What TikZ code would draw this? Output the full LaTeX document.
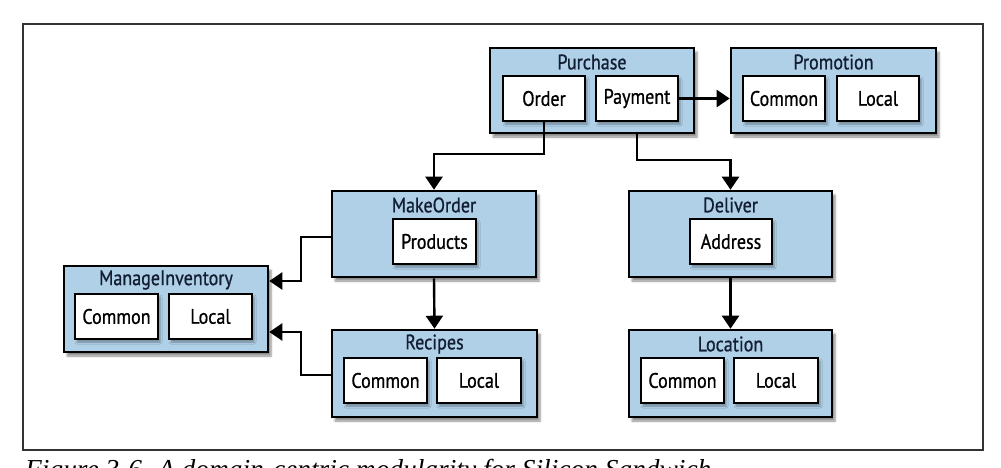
\documentclass[tikz,border=0pt]{standalone}
\usepackage{fontspec}
\setmainfont{PT Sans}
\newfontfamily\lblfont{PT Sans}[FakeStretch=0.86,FakeBold=0.8]
\newfontfamily\capfont{Liberation Serif}
\usetikzlibrary{arrows.meta,positioning,shadows.blur}

\definecolor{boxblue}{RGB}{176,208,232}
\definecolor{titlenavy}{RGB}{18,30,50}

\begin{document}
\begin{tikzpicture}[x=1pt,y=-1pt,
  outer/.style={draw,line width=2.6pt,fill=boxblue,inner sep=0pt,
    blur shadow={shadow xshift=3pt,shadow yshift=-4pt,shadow blur steps=6,shadow opacity=45}},
  inner/.style={draw,line width=2.6pt,fill=white,inner sep=0pt,minimum height=45pt,
    font=\lblfont\fontsize{21}{21}\selectfont,
    blur shadow={shadow xshift=2pt,shadow yshift=-3pt,shadow blur steps=5,shadow opacity=35}},
  ttl/.style={text=titlenavy,inner sep=0pt,font=\lblfont\fontsize{21}{21}\selectfont},
  arr/.style={line width=2.4pt,-{Triangle[length=13pt,width=17pt]}}]
  \useasboundingbox (0,0) rectangle (1001,467);
  % --- frame and caption
  \draw[line width=1.4pt,black!80] (23,24) rectangle (983,450);
  \node[anchor=north west,inner sep=0pt,font=\capfont\itshape\fontsize{27.4}{28}\selectfont] (caption) at (25,459)
    {Figure 3-6. A domain-centric modularity for Silicon Sandwich};
  % --- top row
  \node[outer,minimum width=204pt,minimum height=85pt] (purchase) at (592,90.5) {};
  \node[ttl] (purchaset) at (592,62) {Purchase};
  \node[inner,minimum width=82pt] (order) at (544,98.5) {Order};
  \node[inner,minimum width=82pt] (payment) at (637,98.5) {Payment};
  \node[outer,minimum width=205pt,minimum height=85pt] (promotion) at (833.5,90.5) {};
  \node[ttl] (promotiont) at (833.5,62) {Promotion};
  \node[inner,minimum width=82pt] (promcommon) at (784,98.5) {Common};
  \node[inner,minimum width=82pt] (promlocal) at (878,98.5) {Local};
  % --- middle row
  \node[outer,minimum width=204pt,minimum height=86pt] (makeorder) at (434,234) {};
  \node[ttl] (makeordert) at (434,205) {MakeOrder};
  \node[inner,minimum width=83pt] (products) at (434.5,241.5) {Products};
  \node[outer,minimum width=203pt,minimum height=86pt] (deliver) at (730.5,234) {};
  \node[ttl] (delivert) at (730.5,205) {Deliver};
  \node[inner,minimum width=82pt] (address) at (731,241.5) {Address};
  \node[outer,minimum width=204pt,minimum height=86pt] (manageinv) at (166,309) {};
  \node[ttl] (manageinvt) at (166,280) {ManageInventory};
  \node[inner,minimum width=83pt] (micommon) at (116.5,316.5) {Common};
  \node[inner,minimum width=83pt] (milocal) at (210.5,316.5) {Local};
  % --- bottom row
  \node[outer,minimum width=205pt,minimum height=87pt] (recipes) at (434.5,373.5) {};
  \node[ttl] (recipest) at (434.5,344) {Recipes};
  \node[inner,minimum width=83pt] (reccommon) at (385.5,380.5) {Common};
  \node[inner,minimum width=84pt] (reclocal) at (479,380.5) {Local};
  \node[outer,minimum width=203pt,minimum height=87pt] (location) at (730.5,373.5) {};
  \node[ttl] (locationt) at (730.5,344) {Location};
  \node[inner,minimum width=83pt] (loccommon) at (682.5,380.5) {Common};
  \node[inner,minimum width=84pt] (loclocal) at (776,380.5) {Local};
  % --- connectors
  \coordinate (j1) at (0,154);
  \coordinate (j2) at (0,160);
  \coordinate (m1) at (301,281);
  \coordinate (m2) at (301,332);
  \draw[arr] (payment.east) -- (payment.east -| promotion.west);
  \draw[arr] (order.south) -- (order.south |- j1) -| (makeorder.north);
  \draw[arr] (purchase.south -| payment.south) -- (payment.south |- j2) -| (deliver.north);
  \draw[arr] (makeorder.south) -- (recipes.north);
  \draw[arr] (deliver.south) -- (location.north);
  \draw[arr] ([yshift=-3pt]makeorder.west) -| (m1) -- (m1 -| manageinv.east);
  \draw[arr] ([yshift=-1.5pt]recipes.west) -| (m2) -- (m2 -| manageinv.east);
\end{tikzpicture}
\end{document}
